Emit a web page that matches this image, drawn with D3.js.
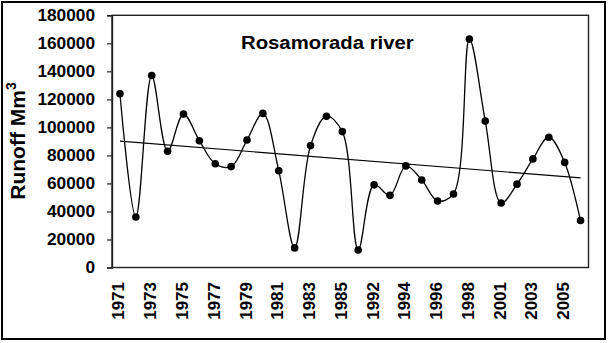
<!DOCTYPE html>
<html>
<head>
<meta charset="utf-8">
<script src="https://cdn.jsdelivr.net/npm/d3@7"></script>
<style>
  html, body { margin: 0; padding: 0; background: #fff; }
  svg { display: block; }
  text { font-family: "Liberation Sans", Arial, sans-serif; font-weight: bold; fill: #000; }
</style>
</head>
<body>
<svg id="chart" width="609" height="343"></svg>
<script>
// ---- Data ----
const years = ["1971","1972","1973","1974","1975","1976","1977","1978","1979","1980",
               "1981","1982","1983","1984","1985","1986","1992","1993","1994","1995",
               "1996","1997","1998","1999","2001","2002","2003","2004","2005","2006"];
const runoff = [124000, 36000, 137000, 83000, 109500, 90500, 74000, 72000, 91000, 110000,
                69000, 14000, 87000, 108000, 97000, 12500, 59000, 51500, 72500, 62500,
                47500, 52500, 163000, 104500, 46000, 59500, 77500, 93000, 75000, 33500];
const xTickLabels = ["1971","1973","1975","1977","1979","1981","1983","1985",
                     "1992","1994","1996","1998","2001","2003","2005"];
const yTicks = [0, 20000, 40000, 60000, 80000, 100000, 120000, 140000, 160000, 180000];
const chartTitle = "Rosamorada river";

// ---- Layout ----
const plot = { left: 112, top: 15.3, right: 588.5, bottom: 267.5 };

const svg = d3.select("#chart");

// outer frame
svg.append("rect")
  .attr("x", 2).attr("y", 2).attr("width", 603).attr("height", 337)
  .attr("fill", "#fff").attr("stroke", "#000").attr("stroke-width", 2);

const x = d3.scaleBand().domain(years).range([plot.left, plot.right]);
const xc = d => x(d) + x.bandwidth() / 2;
const y = d3.scaleLinear().domain([0, 180000]).range([plot.bottom, plot.top]);

// plot area border
svg.append("rect")
  .attr("x", plot.left).attr("y", plot.top)
  .attr("width", plot.right - plot.left).attr("height", plot.bottom - plot.top)
  .attr("fill", "none").attr("stroke", "#222").attr("stroke-width", 1.4);

// y axis
const yAxis = d3.axisLeft(y).tickValues(yTicks).tickSize(5).tickFormat("");
const gy = svg.append("g").attr("transform", `translate(${plot.left},0)`).call(yAxis);
gy.select(".domain").attr("stroke", "#222").attr("stroke-width", 1.4);
gy.selectAll(".tick line").attr("stroke", "#222").attr("stroke-width", 1.2);

svg.append("g").selectAll("text").data(yTicks).join("text")
  .attr("transform", d => `translate(95,${y(d)}) scale(1.08,1)`)
  .attr("text-anchor", "end")
  .attr("dy", "0.36em")
  .style("font-size", "16px")
  .text(d => d3.format("d")(d));

// x axis labels (no ticks)
svg.append("g").selectAll("text").data(xTickLabels).join("text")
  .attr("transform", d => `translate(${xc(d) + 4.5},282) rotate(-90)`)
  .attr("text-anchor", "end")
  .style("font-size", "17px")
  .text(d => d);

// y axis title
const yt = svg.append("text")
  .attr("transform", "translate(25,141) rotate(-90)")
  .attr("text-anchor", "middle")
  .style("font-size", "21px");
yt.append("tspan").text("Runoff Mm");
yt.append("tspan").attr("dy", -9).style("font-size", "14px").text("3");

// chart title
svg.append("text")
  .attr("transform", "translate(241,48.5) scale(1.07,1)")
  .style("font-size", "19px")
  .text(chartTitle);

// linear trend (least squares over point index)
const n = runoff.length;
const idx = d3.range(n);
const mx = d3.mean(idx), my = d3.mean(runoff);
const slope = d3.sum(idx, i => (i - mx) * (runoff[i] - my)) / d3.sum(idx, i => (i - mx) ** 2);
const intercept = my - slope * mx;
svg.append("line")
  .attr("x1", xc(years[0])).attr("y1", y(intercept))
  .attr("x2", xc(years[n - 1])).attr("y2", y(intercept + slope * (n - 1)))
  .attr("stroke", "#000").attr("stroke-width", 1.2);

// smoothed series line
const line = d3.line()
  .x((d, i) => xc(years[i]))
  .y(d => y(d))
  .curve(d3.curveCatmullRom.alpha(0.5));
svg.append("path")
  .datum(runoff)
  .attr("d", line)
  .attr("fill", "none").attr("stroke", "#000").attr("stroke-width", 1.3);

// markers
svg.append("g").selectAll("circle").data(runoff).join("circle")
  .attr("cx", (d, i) => xc(years[i]))
  .attr("cy", d => y(d))
  .attr("r", 3.8)
  .attr("fill", "#000");
</script>
</body>
</html>
